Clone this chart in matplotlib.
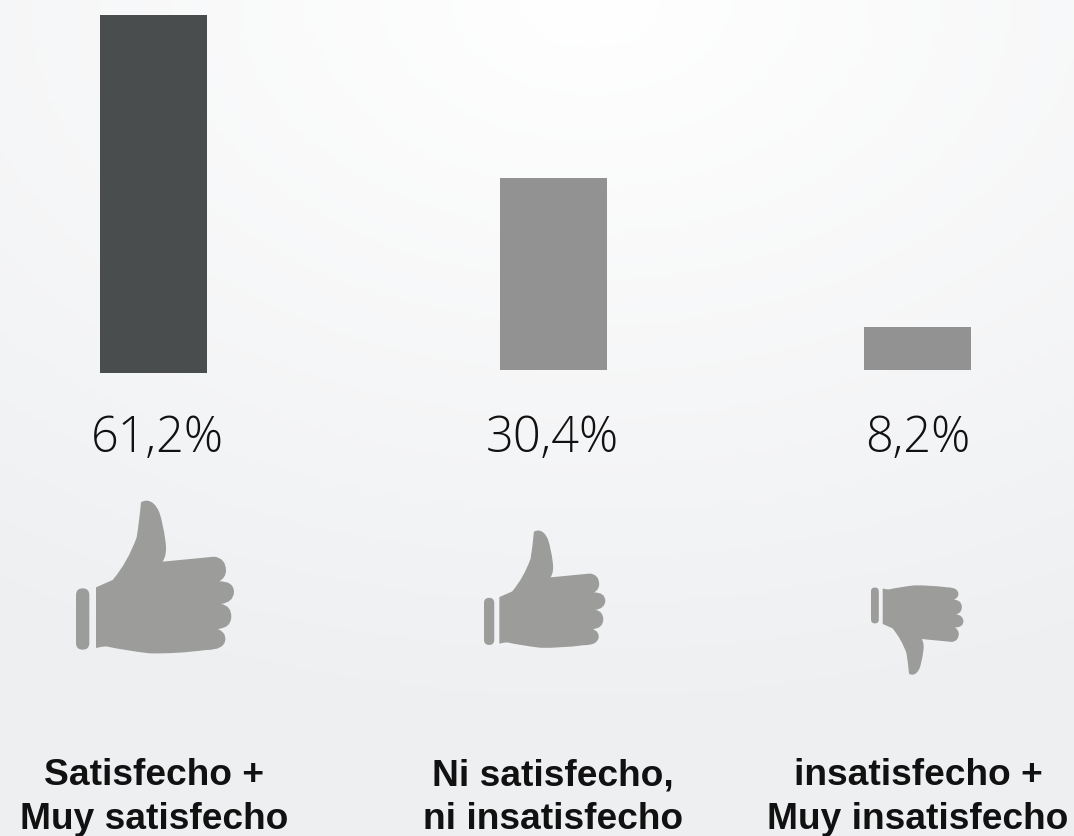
import numpy as np
import matplotlib.pyplot as plt
from matplotlib.path import Path
from matplotlib.patches import PathPatch, FancyBboxPatch
from matplotlib.transforms import Affine2D

W, H = 1074, 836

# bar sizes (the bars are not to scale with the labels)
values = ['61,2%', '30,4%', '8,2%']
labels = ['Satisfecho +\nMuy satisfecho', 'Ni satisfecho,\nni insatisfecho', 'insatisfecho +\nMuy insatisfecho']
bar_heights = [358, 192, 43]
bar_bottoms = [373, 370, 370]
bar_colors = ['#4a4d4e', '#929292', '#929292']
bar_x = [153.5, 553.5, 917]
label_x = [154, 553, 918]
value_x = [157.5, 552.5, 917.5]

fig = plt.figure(figsize=(W / 100, H / 100), dpi=100)
ax = fig.add_axes([0, 0, 1, 1])

# background, white at top middle going to a cool light grey
yy, xx = np.mgrid[0:1:200j, 0:1:200j]
d = np.sqrt(((xx - 0.55) / 1.0) ** 2 + (yy / 0.85) ** 2)
d = np.clip(d, 0, 1)[..., None]
bg = np.array([1, 1, 1]) * (1 - d) + np.array([0.935, 0.94, 0.947]) * d
ax.imshow(bg, extent=[0, W, H, 0], aspect='auto', zorder=0)

ax.bar(bar_x, bar_heights, width=107, bottom=np.array(bar_bottoms) - np.array(bar_heights),
       color=bar_colors, zorder=2)

for x, v in zip(value_x, values):
    ax.text(x, 438.5, v, ha='center', va='center', fontsize=35, family='Open Sans', weight='light', color='#111111')
for x, l in zip(label_x, labels):
    ax.text(x, 797.5, l, ha='center', va='center', fontsize=26.7, family='Liberation Sans', weight='bold',
            color='#111111', linespacing=1.33, clip_on=False)

# thumb shape, traced in the coordinates of the zoomed big icon
M, L, C3, Z = Path.MOVETO, Path.LINETO, Path.CURVE3, Path.CLOSEPOLY
hand = [
    ((110, 290), M), ((160, 268), L),
    ((205, 215), C3), ((232, 140), C3),
    ((240, 90), C3), ((245, 35), C3),
    ((252, 30), C3), ((262, 30), C3),
    ((285, 30), C3), ((300, 65), C3),
    ((312, 100), C3), ((318, 150), C3),
    ((325, 190), C3), ((310, 213), C3),
    ((465, 198), L),
    ((500, 203), C3), ((500, 240), C3),
    ((500, 260), C3), ((480, 272), C3),
    ((524, 272), C3), ((524, 305), C3),
    ((522, 335), C3), ((485, 340), C3),
    ((516, 345), C3), ((516, 378), C3),
    ((515, 412), C3), ((475, 415), C3),
    ((500, 425), C3), ((498, 447), C3),
    ((495, 478), C3), ((440, 478), C3),
    ((350, 490), C3), ((270, 488), C3),
    ((200, 480), C3), ((140, 467), C3),
    ((125, 468), C3), ((110, 472), C3),
    ((110, 290), Z),
]
hand_path = Path([p for p, c in hand], [c for p, c in hand])


def thumb(x0, y0, s, flip=False):
    # x0, y0 = top left of the icon box, s = scale from zoom coords to pixels
    t = Affine2D().translate(-50, -28).scale(s, -s if flip else s)
    t = t.translate(x0, y0 + (462 * s if flip else 0)) + ax.transData
    ax.add_patch(PathPatch(hand_path, fc='#9c9c9b', ec='none', transform=t, zorder=3))
    cuff = FancyBboxPatch((50 + 20, 293 + 20), 0, 144, boxstyle='round,pad=20,rounding_size=20',
                          fc='#9c9c9b', ec='none', transform=t, zorder=3)
    ax.add_patch(cuff)


thumb(76, 500, 1 / 3)
thumb(484, 530, 0.256)
thumb(871, 585, 0.195, flip=True)

ax.set_xlim(0, W)
ax.set_ylim(H, 0)
ax.axis('off')
fig.savefig('out.png', dpi=100)
